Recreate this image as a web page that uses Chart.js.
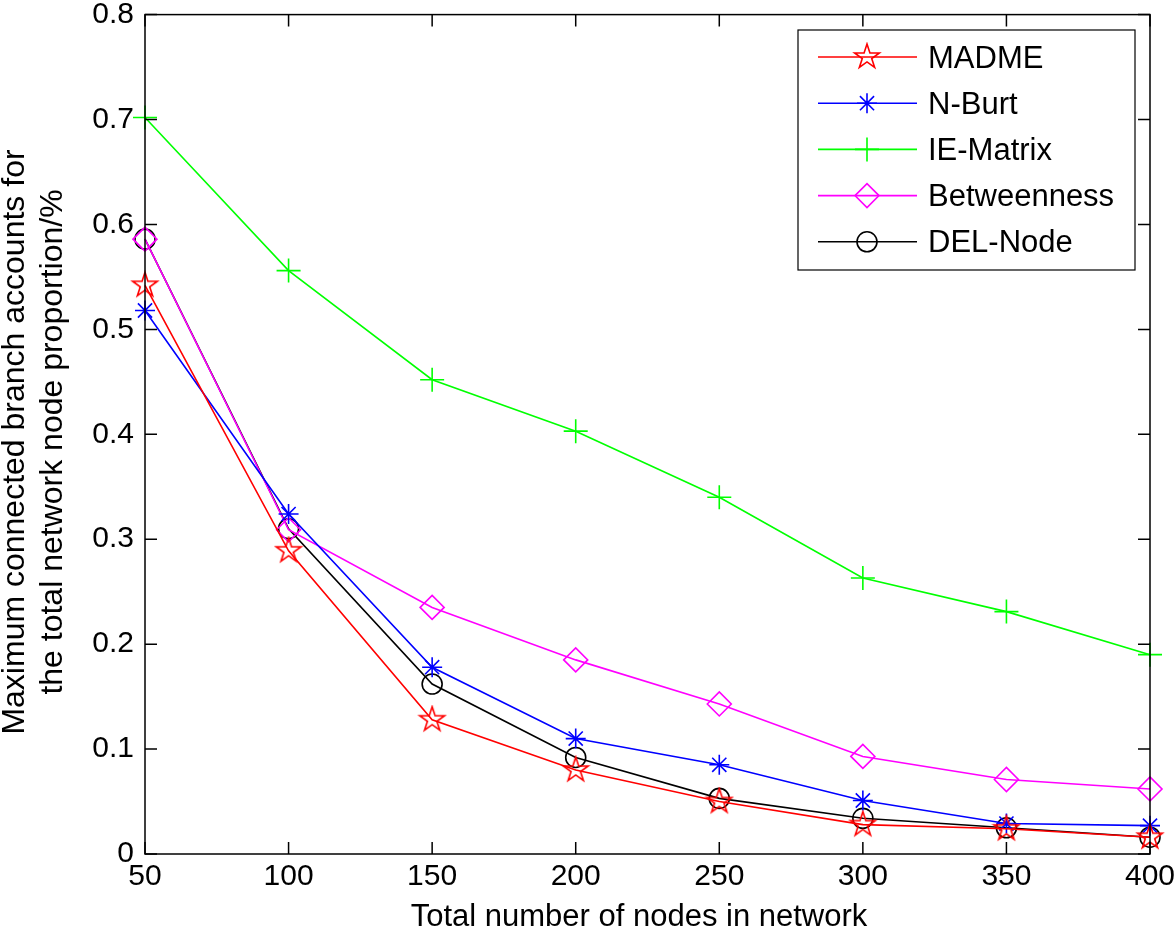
<!DOCTYPE html>
<html>
<head>
<meta charset="utf-8">
<script src="https://cdn.jsdelivr.net/npm/chart.js@4/dist/chart.umd.min.js"></script>
<style>
  html, body { margin: 0; padding: 0; background: #fff; }
  #wrap { width: 1176px; height: 936px; }
</style>
</head>
<body>
<div id="wrap"><canvas id="chart" width="1176" height="936"></canvas></div>
<script>
// data
const nodeCounts = [50, 100, 150, 200, 250, 300, 350, 400];
const madme = [0.542, 0.289, 0.128, 0.080, 0.050, 0.028, 0.024, 0.016];
const nBurt = [0.518, 0.324, 0.178, 0.110, 0.085, 0.051, 0.029, 0.027];
const ieMatrix = [0.702, 0.556, 0.452, 0.403, 0.340, 0.263, 0.231, 0.190];
const betweenness = [0.586, 0.309, 0.235, 0.185, 0.143, 0.093, 0.071, 0.062];
const delNode = [0.586, 0.310, 0.162, 0.092, 0.053, 0.034, 0.025, 0.016];
const yTicks = ['0', '0.1', '0.2', '0.3', '0.4', '0.5', '0.6', '0.7', '0.8'];
const xTitle = 'Total number of nodes in network';
const yTitle = ['Maximum connected branch accounts for', 'the total network node proportion/%'];

const FONT = 'Liberation Sans, Arial, Helvetica, sans-serif';

// MATLAB-like pentagram marker
function makePentagram(color, r) {
  const size = Math.ceil(r * 2 + 4);
  const c = document.createElement('canvas');
  c.width = size; c.height = size;
  const g = c.getContext('2d');
  const cx = size / 2, cy = size / 2, ri = r * 0.382;
  g.beginPath();
  for (let i = 0; i < 10; i++) {
    const rad = i % 2 === 0 ? r : ri;
    const a = -Math.PI / 2 + i * Math.PI / 5;
    const px = cx + rad * Math.cos(a), py = cy + rad * Math.sin(a);
    if (i === 0) g.moveTo(px, py); else g.lineTo(px, py);
  }
  g.closePath();
  g.strokeStyle = color;
  g.lineWidth = 1.6;
  g.stroke();
  return c;
}

const series = [
  { label: 'MADME', values: madme, color: '#ff0000', style: makePentagram('#ff0000', 13), radius: 13 },
  { label: 'N-Burt', values: nBurt, color: '#0000ff', style: 'star', radius: 10 },
  { label: 'IE-Matrix', values: ieMatrix, color: '#00ff00', style: 'cross', radius: 12 },
  { label: 'Betweenness', values: betweenness, color: '#ff00ff', style: 'rectRot', radius: 12 },
  { label: 'DEL-Node', values: delNode, color: '#000000', style: 'circle', radius: 10 },
];

const datasets = series.map(s => ({
  label: s.label,
  data: s.values.map((v, i) => ({ x: nodeCounts[i], y: v })),
  borderColor: s.color,
  backgroundColor: 'rgba(0,0,0,0)',
  borderWidth: 1.6,
  pointStyle: s.style,
  pointRadius: s.radius,
  pointBorderColor: s.color,
  pointBackgroundColor: 'rgba(0,0,0,0)',
  pointBorderWidth: 1.6,
  tension: 0,
  clip: false,
}));

// box, inward ticks, legend, titles
const matlabFrame = {
  id: 'matlabFrame',
  afterDraw(chart) {
    const { ctx, chartArea: a, scales } = chart;
    const xs = scales.x, ys = scales.y;
    ctx.save();
    ctx.strokeStyle = '#000';
    ctx.lineWidth = 1.5;
    ctx.strokeRect(a.left, a.top, a.right - a.left, a.bottom - a.top);
    const tl = 12;
    ctx.beginPath();
    nodeCounts.forEach(v => {
      const px = xs.getPixelForValue(v);
      ctx.moveTo(px, a.bottom); ctx.lineTo(px, a.bottom - tl);
      ctx.moveTo(px, a.top); ctx.lineTo(px, a.top + tl);
    });
    yTicks.forEach(t => {
      const py = ys.getPixelForValue(parseFloat(t));
      ctx.moveTo(a.left, py); ctx.lineTo(a.left + tl, py);
      ctx.moveTo(a.right, py); ctx.lineTo(a.right - tl, py);
    });
    ctx.stroke();

    // axis titles
    ctx.fillStyle = '#000';
    ctx.font = '31px ' + FONT;
    ctx.textAlign = 'center';
    ctx.textBaseline = 'alphabetic';
    ctx.fillText(xTitle, 639, 926);
    ctx.font = '32px ' + FONT;
    ctx.save();
    ctx.translate(24, 442);
    ctx.rotate(-Math.PI / 2);
    ctx.fillText(yTitle[0], 0, 0);
    ctx.fillText(yTitle[1], 0, 38);
    ctx.restore();

    // legend
    const lx = 798, ly = 30, lw = 337, lh = 240;
    ctx.fillStyle = '#fff';
    ctx.fillRect(lx, ly, lw, lh);
    ctx.lineWidth = 1.2;
    ctx.strokeStyle = '#000';
    ctx.strokeRect(lx, ly, lw, lh);
    ctx.font = '31px ' + FONT;
    ctx.textAlign = 'left';
    ctx.textBaseline = 'middle';
    series.forEach((s, i) => {
      const cy = ly + 27 + i * 46.2;
      ctx.strokeStyle = s.color;
      ctx.lineWidth = 1.6;
      ctx.beginPath();
      ctx.moveTo(lx + 20, cy); ctx.lineTo(lx + 119, cy);
      ctx.stroke();
      ctx.fillStyle = 'rgba(0,0,0,0)';
      Chart.helpers.drawPoint(ctx, { pointStyle: s.style, radius: s.radius, rotation: 0, borderWidth: 1.6 }, lx + 69, cy);
      ctx.fillStyle = '#000';
      ctx.fillText(s.label, lx + 130, cy + 2);
    });
    ctx.restore();
  }
};

new Chart(document.getElementById('chart'), {
  type: 'line',
  data: { datasets },
  options: {
    responsive: false,
    animation: false,
    layout: { padding: { top: 8, right: 26, left: 0, bottom: 0 } },
    plugins: { legend: { display: false }, tooltip: { enabled: false } },
    scales: {
      x: {
        type: 'linear', min: 50, max: 400,
        grid: { display: false, drawTicks: false },
        border: { display: false },
        afterFit(s) { s.height = 82; s.paddingLeft = 0; s.paddingRight = 0; },
        ticks: {
          stepSize: 50, padding: 5, color: '#000',
          font: { family: FONT, size: 30 },
        },
      },
      y: {
        type: 'linear', min: 0, max: 0.8,
        grid: { display: false, drawTicks: false },
        border: { display: false },
        afterFit(s) { s.width = 145; s.paddingTop = 0; s.paddingBottom = 0; },
        ticks: {
          stepSize: 0.1, padding: 11, color: '#000',
          font: { family: FONT, size: 30 },
          callback: (v) => yTicks[Math.round(v * 10)],
        },
      },
    },
  },
  plugins: [matlabFrame],
});
</script>
</body>
</html>
